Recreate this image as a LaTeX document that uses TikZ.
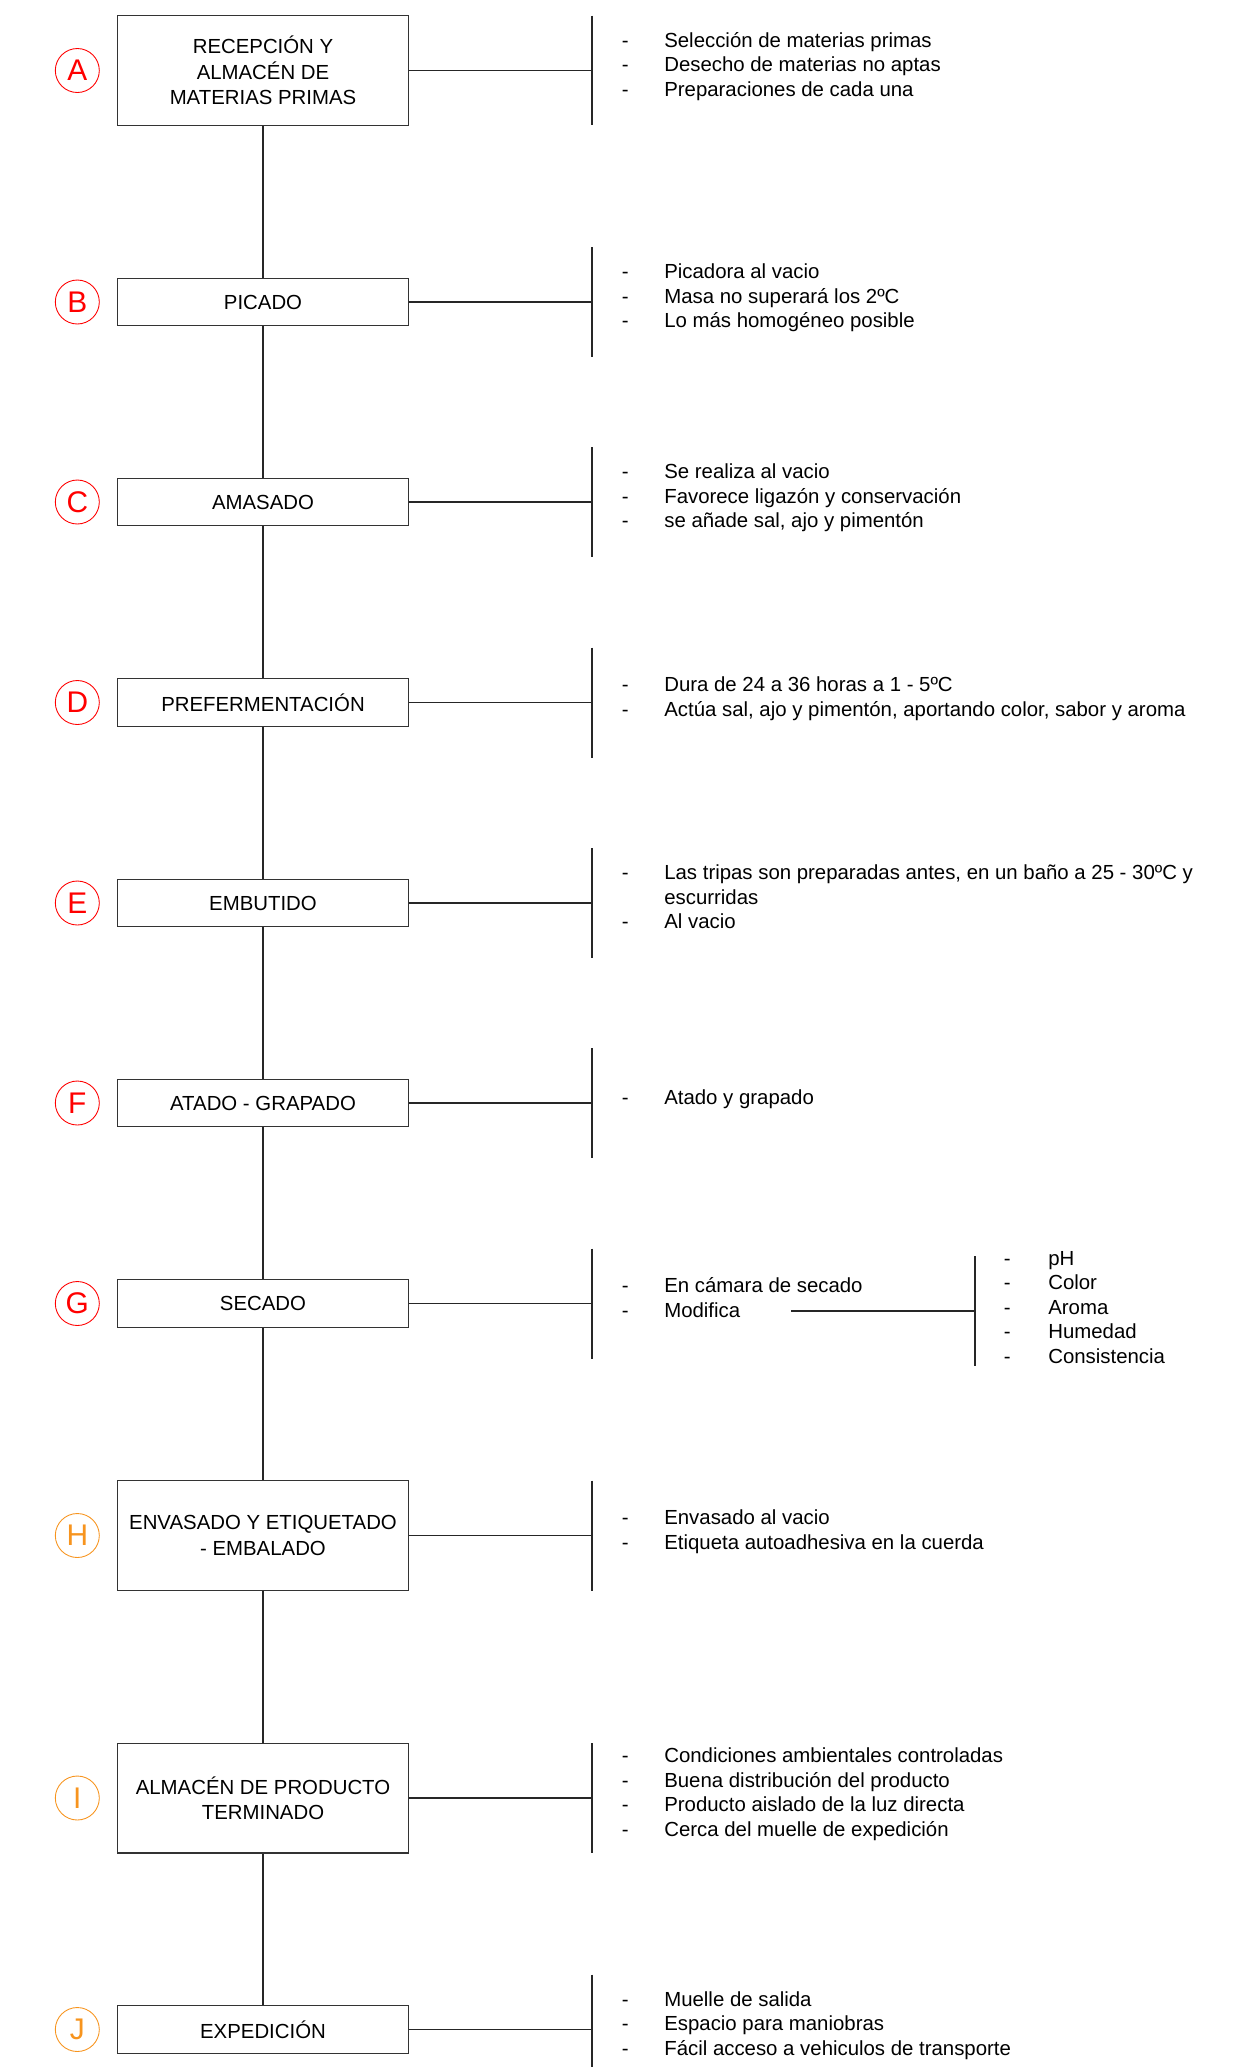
\documentclass[tikz,border=0pt]{standalone}
\usepackage{fontspec}
\setmainfont{Liberation Sans}
\usetikzlibrary{positioning}

\definecolor{rojo}{RGB}{255,0,0}
\definecolor{naranja}{RGB}{247,148,30}

\begin{document}
\begin{tikzpicture}[x=0.02cm, y=-0.02cm,
	paso/.style={draw=black!80, line width=0.6pt, minimum width=5.83cm, minimum height=0.95cm,
		inner sep=0pt, align=center, font=\fontsize{11.6}{14.5}\selectfont},
	alto/.style={minimum height=2.2cm},
	letra/.style={circle, draw=#1, text=#1, line width=0.5pt, minimum size=0.88cm,
		inner sep=0pt, font=\fontsize{17}{17}\selectfont},
	lista/.style={inner sep=0pt, font=\fontsize{11.6}{13.9}\selectfont},
	linea/.style={draw=black!85, line width=0.6pt}]
	\useasboundingbox (0,0) rectangle (1248,2067);

	% etapas del proceso
	\node[paso, alto] (A) at (263,70.5) {RECEPCIÓN Y\\ALMACÉN DE\\MATERIAS PRIMAS};
	\node[paso] (B) at (263,302) {PICADO};
	\node[paso] (C) at (263,502) {AMASADO};
	\node[paso] (D) at (263,702.5) {PREFERMENTACIÓN};
	\node[paso] (E) at (263,903) {EMBUTIDO};
	\node[paso] (F) at (263,1103) {ATADO - GRAPADO};
	\node[paso] (G) at (263,1303.5) {SECADO};
	\node[paso, alto] (H) at (263,1535.5) {ENVASADO Y ETIQUETADO\\- EMBALADO};
	\node[paso, alto] (I) at (263,1798) {ALMACÉN DE PRODUCTO\\TERMINADO};
	\node[paso] (J) at (263,2029.5) {EXPEDICIÓN};

	% letras
	\node[letra=rojo, left=0.34cm of A] (lA) {A};
	\node[letra=rojo, left=0.34cm of B] (lB) {B};
	\node[letra=rojo, left=0.34cm of C] (lC) {C};
	\node[letra=rojo, left=0.34cm of D] (lD) {D};
	\node[letra=rojo, left=0.34cm of E] (lE) {E};
	\node[letra=rojo, left=0.34cm of F] (lF) {F};
	\node[letra=rojo, left=0.34cm of G] (lG) {G};
	\node[letra=naranja, left=0.34cm of H] (lH) {H};
	\node[letra=naranja, left=0.34cm of I] (lI) {I};
	\node[letra=naranja, left=0.34cm of J] (lJ) {J};

	\coordinate (rA) at (592,70.5);
	\coordinate (rB) at (592,302);
	\coordinate (rC) at (592,502);
	\coordinate (rD) at (592,702.5);
	\coordinate (rE) at (592,903);
	\coordinate (rF) at (592,1103);
	\coordinate (rG) at (592,1303.5);
	\coordinate (rH) at (592,1535.5);
	\coordinate (rI) at (592,1798);
	\coordinate (rJ) at (592,2029.5);

	\draw[linea] (A) -- (B) -- (C) -- (D) -- (E) -- (F) -- (G) -- (H) -- (I) -- (J);
	\foreach \p in {A,B,C,D,E,F,G,H,I,J}{
		\draw[linea] (\p) -- (r\p);
		\draw[linea] ([yshift=1.1cm]r\p) -- ([yshift=-1.1cm]r\p);
	}

	% observaciones
	\node[lista, right=0.59cm of rA, yshift=0.07cm] (tA) {\begin{tabular}{@{}p{0.85cm}@{}l@{}}
		-& Selección de materias primas\\ -& Desecho de materias no aptas\\ -& Preparaciones de cada una
	\end{tabular}};
	\node[lista, right=0.59cm of rB, yshift=0.07cm] (tB) {\begin{tabular}{@{}p{0.85cm}@{}l@{}}
		-& Picadora al vacio\\ -& Masa no superará los 2ºC\\ -& Lo más homogéneo posible
	\end{tabular}};
	\node[lista, right=0.59cm of rC, yshift=0.07cm] (tC) {\begin{tabular}{@{}p{0.85cm}@{}l@{}}
		-& Se realiza al vacio\\ -& Favorece ligazón y conservación\\ -& se añade sal, ajo y pimentón
	\end{tabular}};
	\node[lista, right=0.59cm of rD, yshift=0.07cm] (tD) {\begin{tabular}{@{}p{0.85cm}@{}l@{}}
		-& Dura de 24 a 36 horas a 1 - 5ºC\\ -& Actúa sal, ajo y pimentón, aportando color, sabor y aroma
	\end{tabular}};
	\node[lista, right=0.59cm of rE, yshift=0.07cm] (tE) {\begin{tabular}{@{}p{0.85cm}@{}l@{}}
		-& Las tripas son preparadas antes, en un baño a 25 - 30ºC y\\ & escurridas\\ -& Al vacio
	\end{tabular}};
	\node[lista, right=0.59cm of rF, yshift=0.07cm] (tF) {\begin{tabular}{@{}p{0.85cm}@{}l@{}}
		-& Atado y grapado
	\end{tabular}};
	\node[lista, right=0.59cm of rG, yshift=0.07cm] (tG) {\begin{tabular}{@{}p{0.85cm}@{}l@{}}
		-& En cámara de secado\\ -& Modifica
	\end{tabular}};
	\node[lista, right=0.59cm of rH, yshift=0.07cm] (tH) {\begin{tabular}{@{}p{0.85cm}@{}l@{}}
		-& Envasado al vacio\\ -& Etiqueta autoadhesiva en la cuerda
	\end{tabular}};
	\node[lista, right=0.59cm of rI, yshift=0.07cm] (tI) {\begin{tabular}{@{}p{0.85cm}@{}l@{}}
		-& Condiciones ambientales controladas\\ -& Buena distribución del producto\\
		-& Producto aislado de la luz directa\\ -& Cerca del muelle de expedición
	\end{tabular}};
	\node[lista, right=0.59cm of rJ, yshift=0.07cm] (tJ) {\begin{tabular}{@{}p{0.85cm}@{}l@{}}
		-& Muelle de salida\\ -& Espacio para maniobras\\ -& Fácil acceso a vehiculos de transporte
	\end{tabular}};

	% lo que modifica el secado
	\coordinate (mG) at (791,1311);
	\coordinate (sG) at (975,1311);
	\draw[linea] (mG) -- (sG);
	\draw[linea] ([yshift=1.1cm]sG) -- ([yshift=-1.1cm]sG);
	\node[lista, right=0.57cm of sG, yshift=0.03cm] (tS) {\begin{tabular}{@{}p{0.89cm}@{}l@{}}
		-& pH\\ -& Color\\ -& Aroma\\ -& Humedad\\ -& Consistencia
	\end{tabular}};
\end{tikzpicture}
\end{document}
